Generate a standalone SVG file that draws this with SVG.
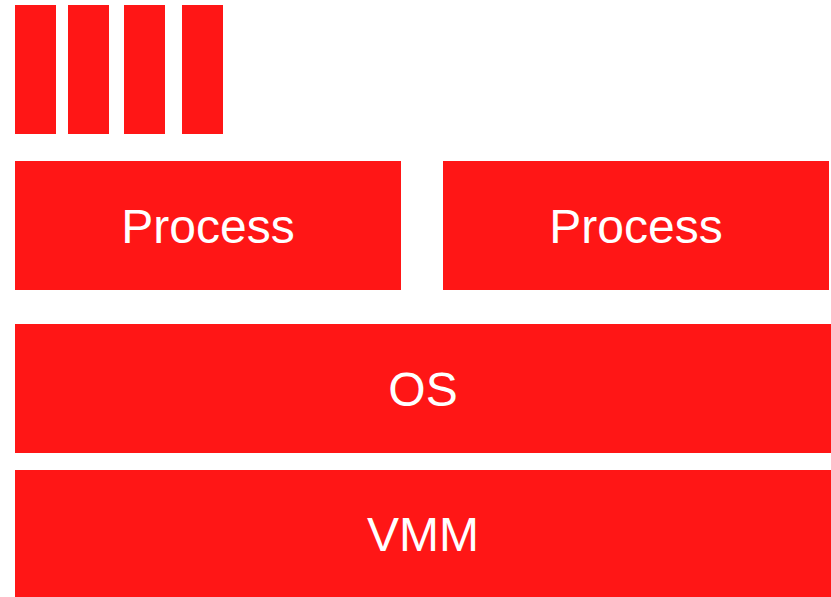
<svg xmlns="http://www.w3.org/2000/svg" width="831" height="597" viewBox="0 0 831 597">
  <style>
    .block { fill: #FF1616; }
    .label { fill: #FFFFFF; font-family: "Liberation Sans", Arial, sans-serif; font-size: 48px; text-anchor: middle; }
  </style>
  <rect width="831" height="597" fill="#FFFFFF"/>
  <g id="threads">
    <rect class="block" x="15" y="5" width="41" height="129"/>
    <rect class="block" x="68" y="5" width="41" height="129"/>
    <rect class="block" x="124" y="5" width="41" height="129"/>
    <rect class="block" x="182" y="5" width="41" height="129"/>
  </g>
  <g id="process-1">
    <rect class="block" x="15" y="161" width="386" height="129"/>
    <text class="label" x="208" y="243">Process</text>
  </g>
  <g id="process-2">
    <rect class="block" x="443" y="161" width="386" height="129"/>
    <text class="label" x="636" y="243">Process</text>
  </g>
  <g id="os">
    <rect class="block" x="15" y="324" width="816" height="129"/>
    <text class="label" x="423" y="406">OS</text>
  </g>
  <g id="vmm">
    <rect class="block" x="15" y="470" width="816" height="127"/>
    <text class="label" x="423" y="551">VMM</text>
  </g>
  <g id="connectors"/>
</svg>
